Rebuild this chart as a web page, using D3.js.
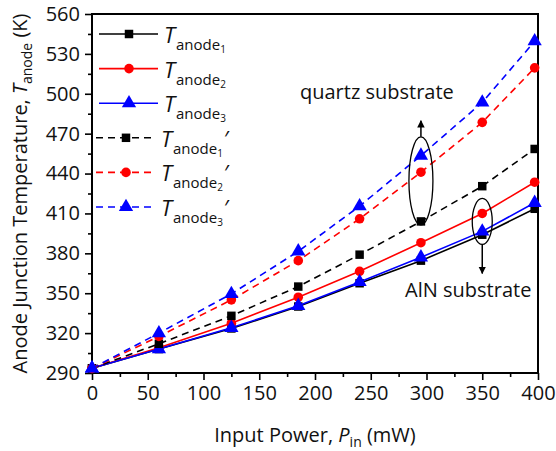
<!DOCTYPE html>
<html>
<head>
<meta charset="utf-8">
<script src="https://cdn.jsdelivr.net/npm/d3@7"></script>
<style>
  body { margin: 0; background: #fff; }
  svg { font-family: "Open Sans", sans-serif; }
</style>
</head>
<body>
<svg id="chart" width="556" height="451"></svg>
<script>
// Input power (mW) and anode junction temperatures (K)
var power = [0, 60, 125, 185, 240, 295, 350, 397];
var tAnode1 = [293.5, 308, 323.5, 340, 357.5, 374.5, 394, 413.5];
var tAnode2 = [293.5, 309, 327.5, 347, 366.5, 388, 410, 433.5];
var tAnode3 = [293.5, 308, 324, 340.5, 358.5, 377, 396.5, 418];
var tAnode1q = [293.5, 312, 333, 355, 379, 404, 430.5, 458.5];
var tAnode2q = [293.5, 317.5, 345, 374.5, 406, 441, 478.5, 519.5];
var tAnode3q = [293.5, 320, 349.5, 381.5, 415.5, 453.5, 493.5, 539.5];

var xTicks = [0, 50, 100, 150, 200, 250, 300, 350, 400];
var yTicks = [290, 320, 350, 380, 410, 440, 470, 500, 530, 560];
var seriesIndex = ["1", "2", "3", "1", "2", "3"];
var seriesPrime = [false, false, false, true, true, true];

var margin = {top: 14, right: 18, bottom: 78, left: 92},
    width = 556 - margin.left - margin.right,
    height = 451 - margin.top - margin.bottom;

var svg = d3.select("#chart")
  .append("g")
  .attr("transform", "translate(" + margin.left + "," + margin.top + ")");

var xScale = d3.scaleLinear().domain([0, 400]).range([0, width]);
var yScale = d3.scaleLinear().domain([290, 560]).range([height, 0]);

var colors = ["black", "red", "blue", "black", "red", "blue"];
var symbols = [d3.symbolSquare, d3.symbolCircle, d3.symbolTriangle,
               d3.symbolSquare, d3.symbolCircle, d3.symbolTriangle];
var symbolSizes = [72, 72, 88, 72, 72, 88];

var series = [tAnode1, tAnode2, tAnode3, tAnode1q, tAnode2q, tAnode3q].map(function(vals, i) {
  return {
    values: vals.map((v, j) => ({p: power[j], t: v})),
    index: seriesIndex[i],
    prime: seriesPrime[i],
    color: colors[i],
    symbol: symbols[i],
    size: symbolSizes[i]
  };
});

// minor ticks
svg.append("g")
  .attr("transform", "translate(0," + height + ")")
  .call(d3.axisBottom(xScale).tickValues(d3.range(25, 400, 50)).tickSize(4).tickFormat(""))
  .call(g => g.select(".domain").remove())
  .call(g => g.selectAll(".tick line").attr("stroke-width", 1.6));
svg.append("g")
  .call(d3.axisLeft(yScale).tickValues(d3.range(305, 560, 30)).tickSize(4).tickFormat(""))
  .call(g => g.select(".domain").remove())
  .call(g => g.selectAll(".tick line").attr("stroke-width", 1.6));

// major ticks
svg.append("g")
  .attr("transform", "translate(0," + height + ")")
  .call(d3.axisBottom(xScale).tickValues(xTicks).tickSize(7).tickPadding(6))
  .call(g => g.select(".domain").remove())
  .call(g => g.selectAll(".tick line").attr("stroke-width", 1.6))
  .call(g => g.selectAll(".tick text").attr("font-size", 20).attr("font-family", "Open Sans").attr("fill", "#111"));

svg.append("g")
  .call(d3.axisLeft(yScale).tickValues(yTicks).tickSize(7).tickPadding(5))
  .call(g => g.select(".domain").remove())
  .call(g => g.selectAll(".tick line").attr("stroke-width", 1.6))
  .call(g => g.selectAll(".tick text").attr("font-size", 20).attr("font-family", "Open Sans").attr("fill", "#111"));

// frame
svg.append("rect")
  .attr("width", width).attr("height", height)
  .attr("fill", "none").attr("stroke", "black").attr("stroke-width", 2);

var line = d3.line().x(d => xScale(d.p)).y(d => yScale(d.t));

series.forEach(function(s) {
  svg.append("path")
    .datum(s.values)
    .attr("d", line)
    .attr("fill", "none")
    .attr("stroke", s.color)
    .attr("stroke-width", 1.6)
    .attr("stroke-dasharray", s.prime ? "7,5" : null);
  svg.selectAll(null)
    .data(s.values)
    .enter().append("path")
    .attr("transform", d => "translate(" + xScale(d.p) + "," + yScale(d.t) + ")")
    .attr("d", d3.symbol().type(s.symbol).size(s.size))
    .attr("fill", s.color);
});

// legend
var legend = svg.append("g").attr("transform", "translate(4,20)");
series.forEach(function(s, i) {
  var y = i * 34.6;
  var x0 = s.prime ? 0 : 3;
  var item = legend.append("g").attr("transform", "translate(" + x0 + "," + y + ")");
  item.append("line")
    .attr("x1", 0).attr("x2", 59).attr("y1", 0).attr("y2", 0)
    .attr("stroke", s.color).attr("stroke-width", 1.6)
    .attr("stroke-dasharray", s.prime ? "7,5" : null);
  item.append("path")
    .attr("transform", "translate(30,0)")
    .attr("d", d3.symbol().type(s.symbol).size(s.size))
    .attr("fill", s.color);
  var t = item.append("text").attr("x", 65).attr("y", 9).attr("fill", "#111");
  t.append("tspan").attr("font-size", 22).attr("font-style", "italic").text("T");
  t.append("tspan").attr("font-size", 15).attr("dy", 7).attr("dx", 1).text("anode");
  t.append("tspan").attr("font-size", 10).attr("dy", 3).text(s.index);
  if (s.prime) {
    t.append("tspan").attr("font-size", 22).attr("dy", -10).attr("dx", 1).text("\u2032");
  }
});

// annotations
var arrowDefs = svg.append("defs");
arrowDefs.append("marker")
  .attr("id", "arrow")
  .attr("viewBox", "0 0 10 10")
  .attr("refX", 9).attr("refY", 5)
  .attr("markerWidth", 5).attr("markerHeight", 6.5)
  .attr("orient", "auto")
  .append("path").attr("d", "M0,0 L10,5 L0,10 Z").attr("fill", "black");

// quartz substrate group at 295 mW
var qx = xScale(295), qy = yScale(434.5);
svg.append("ellipse")
  .attr("cx", qx).attr("cy", qy).attr("rx", 12).attr("ry", 44)
  .attr("fill", "none").attr("stroke", "black").attr("stroke-width", 1.3);
svg.append("line")
  .attr("x1", qx).attr("x2", qx).attr("y1", qy - 44).attr("y2", qy - 60)
  .attr("stroke", "black").attr("stroke-width", 1.5).attr("marker-end", "url(#arrow)");
svg.append("text")
  .attr("x", qx - 44).attr("y", qy - 82)
  .attr("text-anchor", "middle").attr("font-size", 20).attr("fill", "#111")
  .text("quartz substrate");

// AlN substrate group at 350 mW
var ax = xScale(350), ay = yScale(404);
svg.append("ellipse")
  .attr("cx", ax).attr("cy", ay).attr("rx", 10).attr("ry", 23)
  .attr("fill", "none").attr("stroke", "black").attr("stroke-width", 1.3);
svg.append("line")
  .attr("x1", ax).attr("x2", ax).attr("y1", ay + 23).attr("y2", ay + 52)
  .attr("stroke", "black").attr("stroke-width", 1.5).attr("marker-end", "url(#arrow)");
svg.append("text")
  .attr("x", ax - 14).attr("y", ay + 76)
  .attr("text-anchor", "middle").attr("font-size", 20).attr("fill", "#111")
  .text("AlN substrate");

// axis titles
var xt = svg.append("text")
  .attr("x", width / 2).attr("y", height + 69)
  .attr("text-anchor", "middle").attr("font-size", 20).attr("fill", "#111");
xt.append("tspan").text("Input Power, ");
xt.append("tspan").attr("font-style", "italic").text("P");
xt.append("tspan").attr("font-size", 14).attr("dy", 5).text("in");
xt.append("tspan").attr("dy", -5).text(" (mW)");

var yt = svg.append("text")
  .attr("transform", "translate(-65," + (height / 2) + ") rotate(-90)")
  .attr("text-anchor", "middle").attr("font-size", 20).attr("fill", "#111");
yt.append("tspan").text("Anode Junction Temperature, ");
yt.append("tspan").attr("font-style", "italic").text("T");
yt.append("tspan").attr("font-size", 14).attr("dy", 5).text("anode");
yt.append("tspan").attr("dy", -5).text(" (K)");
</script>
</body>
</html>
